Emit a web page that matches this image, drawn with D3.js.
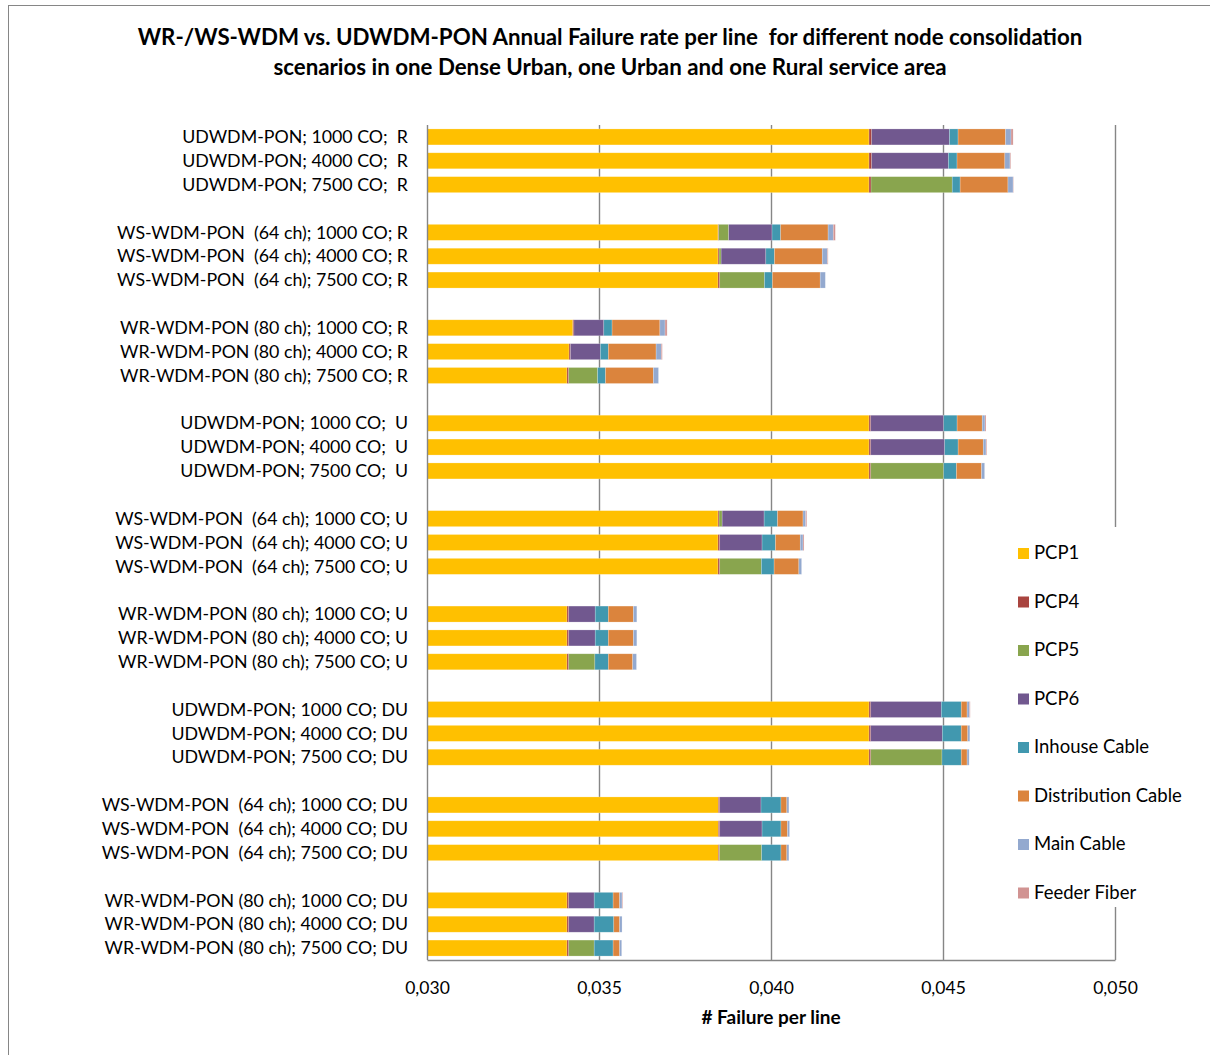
<!DOCTYPE html>
<html>
<head>
<meta charset="utf-8">
<script src="https://cdn.jsdelivr.net/npm/d3@7"></script>
<style>
  html, body { margin: 0; padding: 0; background: #fff; }
  svg { display: block; }
  text { font-family: Lato, "Open Sans", sans-serif; fill: #000; }
</style>
</head>
<body>
<svg id="chart" width="1210" height="1055"></svg>
<script>
// Scenario labels, top to bottom, grouped in threes
const categories = [
  "UDWDM-PON; 1000 CO;  R", "UDWDM-PON; 4000 CO;  R", "UDWDM-PON; 7500 CO;  R",
  "WS-WDM-PON  (64 ch); 1000 CO; R", "WS-WDM-PON  (64 ch); 4000 CO; R", "WS-WDM-PON  (64 ch); 7500 CO; R",
  "WR-WDM-PON (80 ch); 1000 CO; R", "WR-WDM-PON (80 ch); 4000 CO; R", "WR-WDM-PON (80 ch); 7500 CO; R",
  "UDWDM-PON; 1000 CO;  U", "UDWDM-PON; 4000 CO;  U", "UDWDM-PON; 7500 CO;  U",
  "WS-WDM-PON  (64 ch); 1000 CO; U", "WS-WDM-PON  (64 ch); 4000 CO; U", "WS-WDM-PON  (64 ch); 7500 CO; U",
  "WR-WDM-PON (80 ch); 1000 CO; U", "WR-WDM-PON (80 ch); 4000 CO; U", "WR-WDM-PON (80 ch); 7500 CO; U",
  "UDWDM-PON; 1000 CO; DU", "UDWDM-PON; 4000 CO; DU", "UDWDM-PON; 7500 CO; DU",
  "WS-WDM-PON  (64 ch); 1000 CO; DU", "WS-WDM-PON  (64 ch); 4000 CO; DU", "WS-WDM-PON  (64 ch); 7500 CO; DU",
  "WR-WDM-PON (80 ch); 1000 CO; DU", "WR-WDM-PON (80 ch); 4000 CO; DU", "WR-WDM-PON (80 ch); 7500 CO; DU"
];

// Annual failures per line, by component
const pcp1 = [
  0.04285, 0.04285, 0.04285,  0.03846, 0.03846, 0.03846,  0.03424, 0.03413, 0.03407,
  0.04285, 0.04285, 0.04285,  0.03846, 0.03846, 0.03846,  0.03407, 0.03407, 0.03407,
  0.04285, 0.04285, 0.04285,  0.03847, 0.03847, 0.03847,  0.03407, 0.03407, 0.03407
];
const pcp4 = [
  0.000078, 0.000078, 0.000058,  0.00002, 0.00003, 0.00005,  0.00003, 0.00004, 0.00005,
  0.00005, 0.00005, 0.00005,  0.00003, 0.00005, 0.00005,  0.00005, 0.00005, 0.00005,
  0.00005, 0.00005, 0.00005,  0.00004, 0.00004, 0.00003,  0.00005, 0.00005, 0.00005
];
const pcp5 = [
  0, 0, 0.00236,  0.00029, 0.00006, 0.00130,  0, 0, 0.00084,
  0, 0, 0.00212,  0.00009, 0, 0.00121,  0, 0, 0.00076,
  0, 0, 0.00207,  0, 0, 0.00123,  0, 0, 0.00074
];
const pcp6 = [
  0.00226, 0.00223, 0,  0.00126, 0.00130, 0,  0.00087, 0.00087, 0,
  0.00212, 0.00215, 0,  0.00122, 0.00123, 0,  0.00077, 0.00077, 0,
  0.00205, 0.00208, 0,  0.00120, 0.00123, 0,  0.00074, 0.00074, 0
];
const inhouseCable = [
  0.00025, 0.00025, 0.00023,  0.00025, 0.00025, 0.00023,  0.00024, 0.00023, 0.00023,
  0.00039, 0.00039, 0.00037,  0.00039, 0.00039, 0.00037,  0.00038, 0.00038, 0.00039,
  0.00058, 0.00055, 0.00056,  0.00058, 0.00055, 0.00056,  0.00055, 0.00057, 0.00055
];
const distributionCable = [
  0.00138, 0.00139, 0.00139,  0.00138, 0.00139, 0.00139,  0.00139, 0.00139, 0.00139,
  0.00073, 0.00073, 0.00073,  0.00074, 0.00072, 0.00072,  0.00073, 0.00073, 0.00071,
  0.00017, 0.00019, 0.00017,  0.00017, 0.00019, 0.00017,  0.00019, 0.00017, 0.00019
];
const mainCable = [
  0.00016, 0.00015, 0.00015,  0.00015, 0.00015, 0.00015,  0.00015, 0.00015, 0.00015,
  0.00008, 0.00008, 0.00009,  0.00008, 0.00008, 0.00008,  0.00010, 0.00010, 0.00011,
  0.00007, 0.00006, 0.00006,  0.00006, 0.00006, 0.00006,  0.00007, 0.00007, 0.00006
];
const feederFiber = [
  0.00006, 0.00002, 0.00001,  0.00006, 0.00002, 0,  0.00006, 0.00003, 0,
  0.00003, 0.00002, 0,  0.00003, 0.00003, 0,  0, 0, 0,
  0.00002, 0, 0,  0, 0, 0,  0.00002, 0, 0
];

const seriesNames = ["PCP1", "PCP4", "PCP5", "PCP6", "Inhouse Cable", "Distribution Cable", "Main Cable", "Feeder Fiber"];
const seriesValues = [pcp1, pcp4, pcp5, pcp6, inhouseCable, distributionCable, mainCable, feederFiber];
const seriesColors = ["#FFC000", "#A9443F", "#89A54E", "#71588F", "#4198AF", "#DB843D", "#93A9CF", "#D19392"];
const xTicks = [0.030, 0.035, 0.040, 0.045, 0.050];

const titleLines = [
  "WR-/WS-WDM vs. UDWDM-PON Annual Failure rate per line  for different node consolidation",
  "scenarios in one Dense Urban, one Urban and one Rural service area"
];

// Build rows, plus empty spacer slots between the groups of three
const rows = categories.map((c, i) => {
  const r = { key: "c" + i, label: c };
  seriesNames.forEach((s, j) => { r[s] = seriesValues[j][i]; });
  return r;
});
const slots = [];
rows.forEach((r, i) => {
  if (i > 0 && i % 3 === 0) slots.push("gap" + i);
  slots.push(r.key);
});

const svg = d3.select("#chart");
const plot = { left: 427, right: 1115, top: 125, bottom: 960 };
const gridColor = "#868686";

// Outer chart frame
svg.append("rect")
  .attr("x", 8.5).attr("y", 5.5).attr("width", 1300).attr("height", 1100)
  .attr("fill", "none").attr("stroke", gridColor).attr("stroke-width", 1);

const x = d3.scaleLinear().domain([0.030, 0.050]).range([plot.left, plot.right]).clamp(true);
const y = d3.scaleBand().domain(slots).range([plot.top, plot.bottom]).paddingInner(0.33).paddingOuter(0.165);

// Vertical gridlines
svg.append("g").selectAll("line").data(xTicks.slice(1)).join("line")
  .attr("x1", d => Math.round(x(d)) + 0.5).attr("x2", d => Math.round(x(d)) + 0.5)
  .attr("y1", plot.top).attr("y2", plot.bottom)
  .attr("stroke", gridColor).attr("stroke-width", 1.4);

// Stacked bars
const stack = d3.stack().keys(seriesNames);
const stacked = stack(rows);
svg.append("g").selectAll("g").data(stacked).join("g")
  .attr("fill", (d, i) => seriesColors[i])
  .selectAll("rect").data(d => d).join("rect")
  .attr("x", d => x(d[0]))
  .attr("width", d => Math.max(0, x(d[1]) - x(d[0])))
  .attr("y", d => y(d.data.key))
  .attr("height", y.bandwidth())
  .attr("stroke", "rgba(255,255,255,0.35)").attr("stroke-width", 0.6);

// Axes lines
svg.append("line")
  .attr("x1", plot.left + 0.5).attr("x2", plot.left + 0.5)
  .attr("y1", plot.top).attr("y2", plot.bottom)
  .attr("stroke", gridColor).attr("stroke-width", 1.4);

const xAxis = d3.axisBottom(x).tickValues(xTicks).tickSize(0)
  .tickFormat(d => d3.format(".3f")(d).replace(".", ","));
const gx = svg.append("g").attr("transform", `translate(0,${plot.bottom})`).call(xAxis);
gx.select(".domain").attr("stroke", gridColor).attr("stroke-width", 1.4);
gx.selectAll("text").attr("dy", 0).attr("y", 34)
  .style("font-size", "17.5px").style("font-family", "Lato, sans-serif").attr("fill", "#000");

// Category labels
svg.append("g").selectAll("text").data(rows).join("text")
  .attr("x", 408)
  .attr("y", d => y(d.key) + y.bandwidth() / 2)
  .attr("dy", "0.35em")
  .attr("text-anchor", "end")
  .style("font-size", "17.8px")
  .style("white-space", "pre")
  .attr("xml:space", "preserve")
  .text(d => d.label);

// Axis title
svg.append("text")
  .attr("x", (plot.left + plot.right) / 2).attr("y", 1024)
  .attr("text-anchor", "middle")
  .style("font-size", "19px").style("font-weight", "bold")
  .text("# Failure per line");

// Chart title
svg.append("g").selectAll("text").data(titleLines).join("text")
  .attr("x", 610).attr("y", (d, i) => 45 + i * 30)
  .attr("text-anchor", "middle")
  .style("font-size", "22.3px").style("font-weight", "bold")
  .style("white-space", "pre").attr("xml:space", "preserve")
  .text(d => d);

// Legend
const legend = svg.append("g");
legend.append("rect")
  .attr("x", 1005).attr("y", 527).attr("width", 205).attr("height", 380)
  .attr("fill", "#fff");
const items = legend.selectAll("g.item").data(seriesNames).join("g")
  .attr("class", "item")
  .attr("transform", (d, i) => `translate(1018,${553 + i * 48.5})`);
items.append("rect")
  .attr("x", 0).attr("y", -5).attr("width", 11).attr("height", 11)
  .attr("fill", (d, i) => seriesColors[i]);
items.append("text")
  .attr("x", 16).attr("y", 0).attr("dy", "0.35em")
  .style("font-size", "18.5px")
  .text(d => d);
</script>
</body>
</html>
